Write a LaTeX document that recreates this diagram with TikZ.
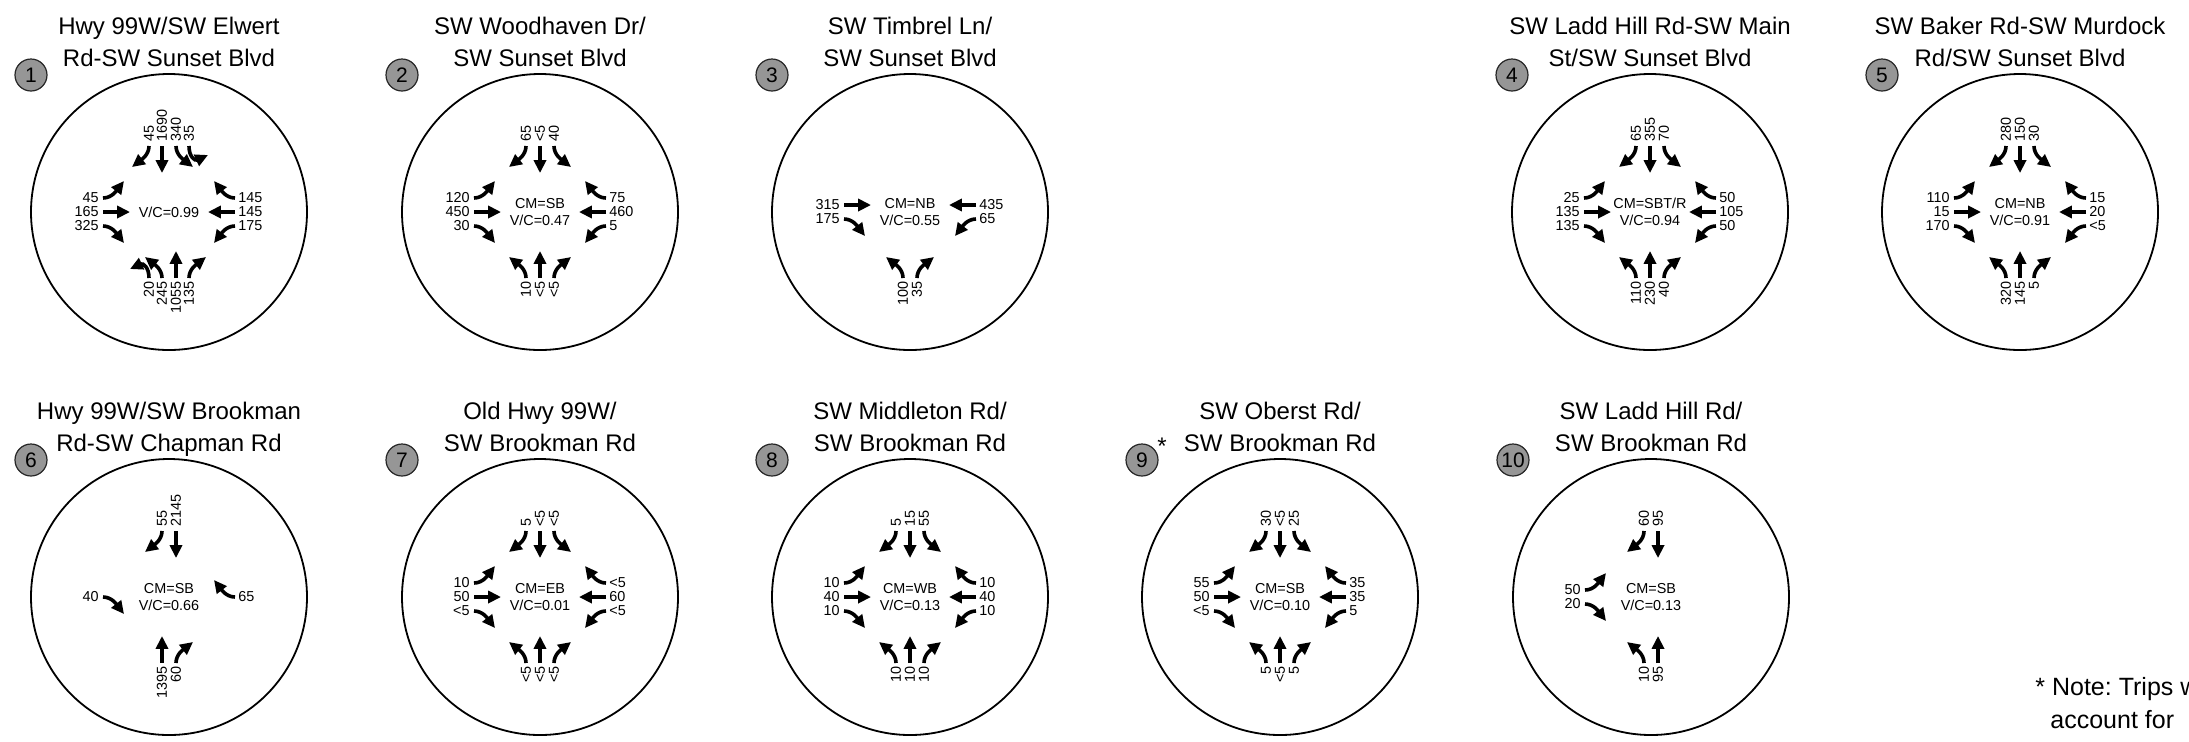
\documentclass[tikz,border=0pt]{standalone}
\usepackage{fontspec}
\setmainfont{Liberation Sans}
\usetikzlibrary{arrows.meta}
\definecolor{badgegray}{RGB}{150,150,150}
\frenchspacing
\newcount\lblc
\tikzset{
  arr/.style={line width=1.8pt, -{Triangle[length=6.4pt,width=6pt]}},
  lbl/.style={font=\fontsize{7.2}{7.2}\selectfont, inner sep=0pt},
  ring/.style={draw, line width=0.9pt},
  badge/.style={circle, draw=black!85, line width=0.6pt, fill=badgegray, minimum size=16pt, inner sep=0pt, font=\fontsize{10.5}{10.5}\selectfont},
  ttl/.style={font=\fontsize{12}{14}\selectfont, anchor=base, inner sep=0pt},
  ctr/.style={font=\fontsize{7.2}{8.5}\selectfont, align=center, inner sep=0pt},
  notetext/.style={font=\fontsize{12.5}{14}\selectfont, anchor=base west, inner sep=0pt}
}
\newcommand\setc[2]{\def\cx{#1}\def\cy{#2}}
% arrows drawn in the frame of a northbound approach (below the centre)
\newcommand\arrT[1]{\draw[arr] (#1,66) -- (#1,39);}
\newcommand\arrL[1]{\draw[arr] (#1,66) .. controls (#1,57) and ({#1-8},52) .. ({#1-17},45);}
\newcommand\arrR[1]{\draw[arr] (#1,66) .. controls (#1,57) and ({#1+8},52) .. ({#1+17},45);}
\newcommand\arrU[1]{\draw[arr] (#1,66) .. controls (#1,55) and ({#1-6},51) .. ({#1-19},57);}
\newcommand\laneS[3]{%
  \begin{scope}[shift={(\cx,\cy)}]\csname arr#1\endcsname{#2}\end{scope}%
  \global\advance\lblc by 1
  \node[lbl, rotate=90, anchor=east] (L\the\lblc) at ({\cx+(#2)},{\cy+69}) {#3};}
\newcommand\laneN[3]{%
  \pgfmathsetmacro\myS{-(#2)}%
  \begin{scope}[shift={(\cx,\cy)}, rotate=180]\csname arr#1\endcsname{\myS}\end{scope}%
  \global\advance\lblc by 1
  \node[lbl, rotate=90, anchor=west] (L\the\lblc) at ({\cx+(#2)},{\cy-70}) {#3};}
\newcommand\laneW[3]{%
  \begin{scope}[shift={(\cx,\cy)}, rotate=-90]\csname arr#1\endcsname{#2}\end{scope}%
  \global\advance\lblc by 1
  \node[lbl, anchor=east] (L\the\lblc) at ({\cx-70},{\cy+(#2)}) {#3};}
\newcommand\laneE[3]{%
  \pgfmathsetmacro\myS{-(#2)}%
  \begin{scope}[shift={(\cx,\cy)}, rotate=90]\csname arr#1\endcsname{\myS}\end{scope}%
  \global\advance\lblc by 1
  \node[lbl, anchor=west] (L\the\lblc) at ({\cx+69},{\cy+(#2)}) {#3};}
\newcommand\stdNS[6]{\laneN{R}{-14}{#1}\laneN{T}{0}{#2}\laneN{L}{14}{#3}%
  \laneS{L}{-14}{#4}\laneS{T}{0}{#5}\laneS{R}{14}{#6}}
\newcommand\stdWE[6]{\laneW{L}{-14}{#1}\laneW{T}{0}{#2}\laneW{R}{14}{#3}%
  \laneE{R}{-14}{#4}\laneE{T}{0}{#5}\laneE{L}{14}{#6}}
\newcommand\isect[5]{%
  \setc{#2}{#3}%
  \draw[ring] (#2,#3) circle[radius=138];
  \node[badge] (b#1) at ({#2-138},{#3-137}) {#1};
  \node[ttl] (ta#1) at (#2,{#3-178}) {#4};
  \node[ttl] (tb#1) at (#2,{#3-146}) {#5};}
\begin{document}
\begin{tikzpicture}[x=0.5pt,y=-0.5pt]
\useasboundingbox (0,0) rectangle (2189,741);
\clip (0,0) rectangle (2189,741);
\fill[white] (0,0) rectangle (2189,741);

% 1
\isect{1}{169}{212}{Hwy 99W/SW Elwert}{Rd-SW Sunset Blvd}
\laneN{R}{-20}{45}\laneN{T}{-7}{1690}\laneN{L}{7}{340}\laneN{U}{20}{35}
\laneS{U}{-20}{20}\laneS{L}{-7}{245}\laneS{T}{7}{1055}\laneS{R}{20}{135}
\stdWE{45}{165}{325}{145}{145}{175}
\node[ctr] (c1) at (169,212) {V/C=0.99};

% 2
\isect{2}{540}{212}{SW Woodhaven Dr/}{SW Sunset Blvd}
\stdNS{65}{<5}{40}{10}{<5}{<5}
\stdWE{120}{450}{30}{75}{460}{5}
\node[ctr] (c2) at (540,212) {CM=SB\\V/C=0.47};

% 3
\isect{3}{910}{212}{SW Timbrel Ln/}{SW Sunset Blvd}
\laneW{T}{-7}{315}\laneW{R}{7}{175}
\laneE{T}{-7}{435}\laneE{L}{7}{65}
\laneS{L}{-7}{100}\laneS{R}{7}{35}
\node[ctr] (c3) at (910,212) {CM=NB\\V/C=0.55};

% 4
\isect{4}{1650}{212}{SW Ladd Hill Rd-SW Main}{St/SW Sunset Blvd}
\stdNS{65}{355}{70}{110}{230}{40}
\stdWE{25}{135}{135}{50}{105}{50}
\node[ctr] (c4) at (1650,212) {CM=SBT/R\\V/C=0.94};

% 5
\isect{5}{2020}{212}{SW Baker Rd-SW Murdock}{Rd/SW Sunset Blvd}
\stdNS{280}{150}{30}{320}{145}{5}
\stdWE{110}{15}{170}{15}{20}{<5}
\node[ctr] (c5) at (2020,212) {CM=NB\\V/C=0.91};

% 6
\isect{6}{169}{597}{Hwy 99W/SW Brookman}{Rd-SW Chapman Rd}
\laneN{R}{-7}{55}\laneN{T}{7}{2145}
\laneW{R}{0}{40}
\laneE{R}{0}{65}
\laneS{T}{-7}{1395}\laneS{R}{7}{60}
\node[ctr] (c6) at (169,597) {CM=SB\\V/C=0.66};

% 7
\isect{7}{540}{597}{Old Hwy 99W/}{SW Brookman Rd}
\stdNS{5}{<5}{<5}{<5}{<5}{<5}
\stdWE{10}{50}{<5}{<5}{60}{<5}
\node[ctr] (c7) at (540,597) {CM=EB\\V/C=0.01};

% 8
\isect{8}{910}{597}{SW Middleton Rd/}{SW Brookman Rd}
\stdNS{5}{15}{55}{10}{10}{10}
\stdWE{10}{40}{10}{10}{40}{10}
\node[ctr] (c8) at (910,597) {CM=WB\\V/C=0.13};

% 9
\isect{9}{1280}{597}{SW Oberst Rd/}{SW Brookman Rd}
\stdNS{30}{<5}{25}{5}{<5}{5}
\stdWE{55}{50}{<5}{35}{35}{5}
\node[ctr] (c9) at (1280,597) {CM=SB\\V/C=0.10};
\node[font=\fontsize{12}{12}\selectfont, inner sep=0pt, anchor=base] (ast9) at (1162,454) {*};

% 10
\isect{10}{1651}{597}{SW Ladd Hill Rd/}{SW Brookman Rd}
\laneN{R}{-7}{60}\laneN{T}{7}{95}
\laneW{L}{-7}{50}\laneW{R}{7}{20}
\laneS{L}{-7}{10}\laneS{T}{7}{95}
\node[ctr] (c10) at (1651,597) {CM=SB\\V/C=0.13};

% note
\node[notetext] (note1) at (2035,695) {* Note: Trips were};
\node[notetext] (note2) at (2050,728) {account for};
\end{tikzpicture}
\end{document}
